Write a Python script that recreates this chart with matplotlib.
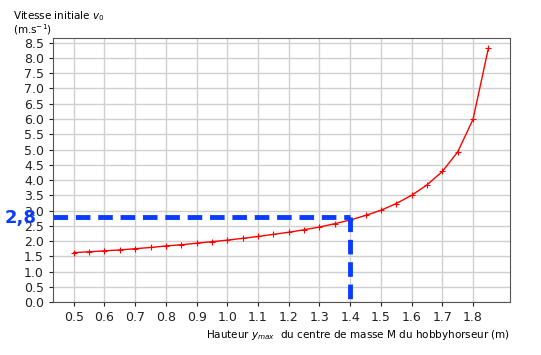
import numpy as np
import matplotlib.pyplot as plt

# hauteur du centre de masse (m) et vitesse initiale (m/s)
y_max = [0.50, 0.55, 0.60, 0.65, 0.70, 0.75, 0.80, 0.85, 0.90, 0.95,
         1.00, 1.05, 1.10, 1.15, 1.20, 1.25, 1.30, 1.35, 1.40, 1.45,
         1.50, 1.55, 1.60, 1.65, 1.70, 1.75, 1.80, 1.85]
v0 = [1.62, 1.65, 1.68, 1.71, 1.75, 1.79, 1.84, 1.88, 1.93, 1.98,
      2.03, 2.09, 2.15, 2.22, 2.29, 2.37, 2.46, 2.57, 2.69, 2.84,
      3.01, 3.23, 3.50, 3.84, 4.28, 4.92, 5.99, 8.32]

x_lu = 1.4
v_lu = 2.8

xticks = [0.5, 0.6, 0.7, 0.8, 0.9, 1.0, 1.1, 1.2, 1.3, 1.4, 1.5, 1.6, 1.7, 1.8]
yticks = [0.0, 0.5, 1.0, 1.5, 2.0, 2.5, 3.0, 3.5, 4.0, 4.5, 5.0, 5.5, 6.0,
          6.5, 7.0, 7.5, 8.0, 8.5]

fig = plt.figure(figsize=(5.41, 3.55), dpi=100)
ax = fig.add_axes([0.098, 0.149, 0.845, 0.744])

ax.plot(y_max, v0, color='red', lw=1, marker='+', markersize=4,
        markeredgewidth=0.8)

ax.set_ylim(bottom=0)
ax.set_xticks(xticks)
ax.set_yticks(yticks)
ax.set_xticklabels([f'{t:.1f}' for t in xticks])
ax.set_yticklabels([f'{t:.1f}' for t in yticks])
ax.grid(True, color='#d0d0d0', lw=1)
ax.set_axisbelow(True)

xmin = ax.get_xlim()[0]
ax.plot([xmin, x_lu], [v_lu, v_lu], color='#0a3cff', lw=3.5,
        ls=(0, (3, 1.6)), clip_on=False)
ax.plot([x_lu, x_lu], [v_lu, 0], color='#0a3cff', lw=3.5,
        ls=(0, (3, 1.6)), clip_on=False)
ax.set_xlim(xmin, ax.get_xlim()[1])

# "2,8" a gauche des graduations
fig.text(37 / 541, 1 - 218 / 355, '2,8', ha='right', va='center',
         color='#0a3cff', fontsize=13, fontweight='bold')

for s in ax.spines.values():
    s.set_color('#555555')
ax.tick_params(labelsize=9, colors='#222222', length=3)

fig.text(0.024, 0.955, 'Vitesse initiale $v_0$', fontsize=7.5, va='center')
fig.text(0.024, 0.917, '(m.s$^{-1}$)', fontsize=7.5, va='center')
ax.set_xlabel('Hauteur $y_{max}$  du centre de masse M du hobbyhorseur (m)',
              fontsize=7.5, loc='right', labelpad=3)

fig.savefig('out.png', dpi=100)
